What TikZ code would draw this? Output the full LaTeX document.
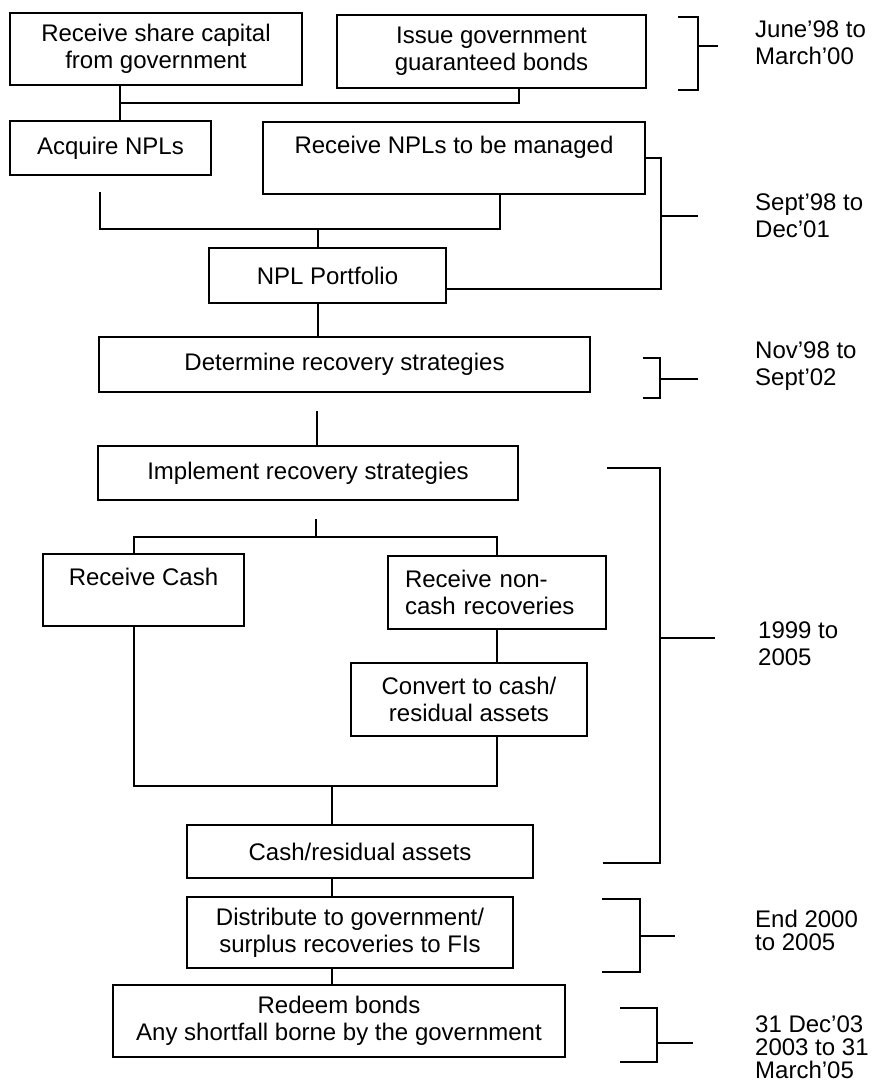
\documentclass[tikz,border=0pt]{standalone}
\usepackage{fontspec}
\setmainfont{Liberation Sans}
\begin{document}
\begin{tikzpicture}[x=1pt,y=-1pt,
  every node/.style={font=\fontsize{24}{27}\selectfont},
  box/.style={draw, line width=1.7pt, inner sep=0pt, align=center},
  conn/.style={line width=1.7pt},
  period/.style={align=left, anchor=west, inner sep=0pt},
  tight/.style={font=\fontsize{24}{23}\selectfont}]
\useasboundingbox (0,0) rectangle (876,1092);
\fill[white] (0,0) rectangle (876,1092);

% boxes
\node[box, minimum width=292pt, minimum height=72pt] (share) at (156,49) {Receive share capital\\from government};
\node[box, minimum width=309pt, minimum height=73pt] (bonds) at (491.5,51.5) {Issue government\\guaranteed bonds};
\node[box, minimum width=201pt, minimum height=54pt] (acq) at (110.5,148) {Acquire NPLs};
\node[box, minimum width=382pt, minimum height=72pt] (recv) at (454,158) {Receive NPLs to be managed\\\mbox{}};
\node[box, minimum width=237pt, minimum height=55pt] (npl) at (327.5,275.5) {NPL Portfolio};
\node[box, minimum width=491pt, minimum height=55pt] (det) at (344.5,364.5) {Determine recovery strategies};
\node[box, minimum width=420pt, minimum height=54pt] (impl) at (308,473) {Implement recovery strategies};
\node[box, minimum width=201pt, minimum height=72pt] (cash) at (143.5,590) {Receive Cash\\\mbox{}};
\node[box, minimum width=218pt, minimum height=73pt, align=left, text width=184pt] (noncash) at (497,592.5) {Receive non-\\cash recoveries};
\node[box, minimum width=236pt, minimum height=73pt] (conv) at (469,699.5) {Convert to cash/\\residual assets};
\node[box, minimum width=346pt, minimum height=53pt] (resid) at (360,851.5) {Cash/residual assets};
\node[box, minimum width=326pt, minimum height=71pt] (dist) at (350,932.5) {Distribute to government/\\surplus recoveries to FIs};
\node[box, minimum width=452pt, minimum height=72pt] (redeem) at (339,1021) {Redeem bonds\\Any shortfall borne by the government};

% period labels
\node[period] (t1) at (755,42.5) {June'98 to\\March'00};
\node[period] (t2) at (755,215.5) {Sept'98 to\\Dec'01};
\node[period] (t3) at (755,366) {Nov'98 to\\Sept'02};
\node[period] (t4) at (758,643.5) {1999 to\\2005};
\node[period, tight] (t5) at (755,930) {End 2000\\to 2005};
\node[period, tight] (t6) at (755,1047) {31 Dec'03\\2003 to 31\\March'05};

% connectors
\coordinate (j1) at (120,103);
\coordinate (j2) at (519,103);
\draw[conn] (share.south -| j1) -- (acq.north -| j1);
\draw[conn] (bonds.south -| j2) -- (j2) -- (j1);
\coordinate (af) at (100,192);
\coordinate (rj) at (500,229);
\coordinate (mj) at (318,229);
\draw[conn] (af) |- (rj) -- (recv.south -| rj);
\draw[conn] (mj) -- (npl.north -| mj);
\coordinate (sb) at (661,216);
\coordinate (nplr) at ([yshift=-13.5pt]npl.east);
\draw[conn] (recv.east) -- (recv.east -| sb) -- (sb |- nplr) -- (nplr);
\draw[conn] (sb) -- ++(37,0);
\draw[conn] (npl.south -| mj) -- (det.north -| mj);
\coordinate (df) at (317,411);
\draw[conn] (df) -- (impl.north -| df);
\coordinate (if) at (316,519);
\coordinate (sl) at (134,537);
\coordinate (sr) at (497,537);
\draw[conn] (if) -- (if |- sl);
\draw[conn] (cash.north -| sl) -- (sl) -- (sr) -- (noncash.north -| sr);
\draw[conn] (noncash.south -| sr) -- (conv.north -| sr);
\coordinate (ml) at (134,786);
\coordinate (mr) at (497,786);
\coordinate (mm) at (332,786);
\draw[conn] (cash.south -| ml) -- (ml) -- (mr) -- (conv.south -| mr);
\draw[conn] (mm) -- (resid.north -| mm);
\draw[conn] (resid.south -| mm) -- (dist.north -| mm);
\draw[conn] (dist.south -| mm) -- (redeem.north -| mm);

% period brackets
\draw[conn] (678,17) -| (698,90) -- (678,90);
\draw[conn] (698,46) -- (718,46);
\draw[conn] (643,358) -| (660,398) -- (643,398);
\draw[conn] (660,379) -- (698,379);
\draw[conn] (607,468) -| (660,863) -- (603,863);
\draw[conn] (660,638) -- (715,638);
\draw[conn] (602,899) -| (640,972) -- (602,972);
\draw[conn] (640,936) -- (675,936);
\draw[conn] (620,1008) -| (657,1062) -- (620,1062);
\draw[conn] (657,1043) -- (693,1043);
\end{tikzpicture}
\end{document}
